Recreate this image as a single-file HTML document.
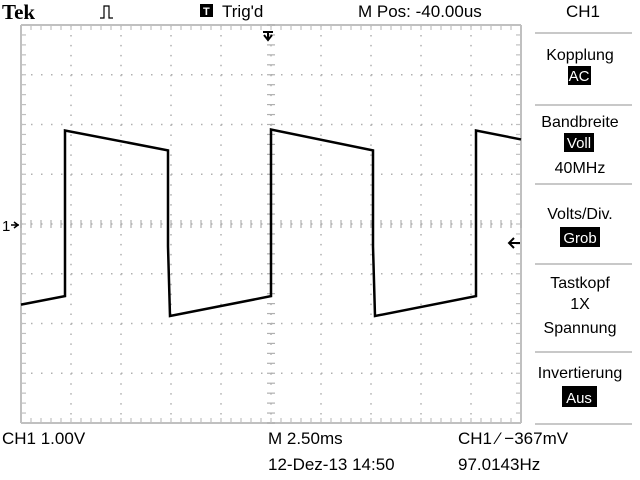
<!DOCTYPE html>
<html><head><meta charset="utf-8"><style>
body{margin:0;background:#fff;width:640px;height:480px;overflow:hidden;font-family:"Liberation Sans",sans-serif}
svg{display:block}
text{font-family:"Liberation Sans",sans-serif;fill:#000}
</style></head><body>
<svg width="640" height="480">
<text x="2" y="19" font-family="Liberation Serif" font-weight="bold" font-size="21" style="font-family:'Liberation Serif',serif">Tek</text>
<path d="M100 18 h4 v-12 h5 v12 h4" fill="none" stroke="#000" stroke-width="1.2"/>
<rect x="200" y="4" width="13" height="13" fill="#000"/>
<text x="203" y="15" font-size="11" font-weight="bold" style="fill:#fff">T</text>
<text x="222" y="17" font-size="17">Trig'd</text>
<text x="358" y="17" font-size="17">M Pos: -40.00us</text>
<text x="566" y="17" font-size="17">CH1</text>
<g id="grid"></g>
<path d="M263 32 h10 M268 32 v7 M264 35 l4 5 l4 -5" stroke="#000" stroke-width="2" fill="none"/>
<text x="2" y="231" font-size="15">1</text>
<path d="M11 225 h8 M14 222 l4 3 l-4 3" stroke="#000" stroke-width="1.5" fill="none"/>
<path d="M509 243 h11 M514 238 l-5 5 l5 5" stroke="#000" stroke-width="2" fill="none"/>
<polyline id="trace" fill="none" stroke="#000" stroke-width="2.5"/>
<g>
<g stroke="#c8c8c8" stroke-width="2"><line x1="535" y1="33" x2="632" y2="33"/><line x1="535" y1="105" x2="632" y2="105"/><line x1="535" y1="184" x2="632" y2="184"/><line x1="535" y1="264" x2="632" y2="264"/><line x1="535" y1="352" x2="632" y2="352"/><line x1="535" y1="424" x2="632" y2="424"/></g>
<text x="580" y="60" font-size="16" text-anchor="middle">Kopplung</text>
<rect x="568" y="66" width="23" height="19" fill="#000"/><text x="579" y="81" font-size="15" text-anchor="middle" style="fill:#fff">AC</text>
<text x="580" y="127" font-size="16" text-anchor="middle">Bandbreite</text>
<rect x="564" y="133" width="30" height="19" fill="#000"/><text x="579" y="148" font-size="15" text-anchor="middle" style="fill:#fff">Voll</text>
<text x="580" y="173" font-size="16" text-anchor="middle">40MHz</text>
<text x="580" y="219" font-size="16" text-anchor="middle">Volts/Div.</text>
<rect x="560" y="227" width="40" height="20" fill="#000"/><text x="580" y="243" font-size="15" text-anchor="middle" style="fill:#fff">Grob</text>
<text x="580" y="288" font-size="16" text-anchor="middle">Tastkopf</text>
<text x="580" y="309" font-size="16" text-anchor="middle">1X</text>
<text x="580" y="333" font-size="16" text-anchor="middle">Spannung</text>
<text x="580" y="378" font-size="16" text-anchor="middle">Invertierung</text>
<rect x="562" y="386" width="35" height="21" fill="#000"/><text x="579" y="403" font-size="15" text-anchor="middle" style="fill:#fff">Aus</text>
</g>
<text x="2" y="444" font-size="17">CH1  1.00V</text>
<text x="268" y="444" font-size="17">M 2.50ms</text>
<text x="458" y="444" font-size="17">CH1 ⁄ −367mV</text>
<text x="268" y="470" font-size="17">12-Dez-13 14:50</text>
<text x="458" y="470" font-size="17">97.0143Hz</text>
</svg>
<script>
// time in divisions (0..10), voltage in divisions (V at 1.00V/div) relative to center
const timeDiv = [0, 0.88, 0.88, 2.94, 2.94, 2.98, 5.0, 5.0, 7.04, 7.04, 7.08, 9.1, 9.1, 10];
const voltDiv = [-1.62, -1.45, 1.88, 1.48, -0.45, -1.85, -1.45, 1.9, 1.48, -0.45, -1.85, -1.45, 1.88, 1.7];
const gx0=21, gx1=521, gy0=25, gy1=423;
const xs = t => gx0 + t*(gx1-gx0)/10;
const ys = v => (gy0+gy1)/2 - v*(gy1-gy0)/8;
const NS='http://www.w3.org/2000/svg';
const g=document.getElementById('grid');
function ln(x1,y1,x2,y2,c,w,d){const l=document.createElementNS(NS,'line');l.setAttribute('x1',x1);l.setAttribute('y1',y1);l.setAttribute('x2',x2);l.setAttribute('y2',y2);l.setAttribute('stroke',c);l.setAttribute('stroke-width',w);if(d)l.setAttribute('stroke-dasharray',d);g.appendChild(l);}
ln(gx0,gy0,gx1,gy0,'#c0c0c0',2);ln(gx0,gy1,gx1,gy1,'#c0c0c0',2);
ln(gx0,gy0,gx0,gy1,'#c0c0c0',2);ln(gx1,gy0,gx1,gy1,'#c0c0c0',2);
for(let i=1;i<10;i++){const x=xs(i);ln(x,gy0,x,gy1,'#b0b0b0',1.5,'1.5 8.45');}
for(let j=1;j<8;j++){const y=gy0+j*(gy1-gy0)/8;ln(gx0,y,gx1,y,'#b0b0b0',1.5,'1.5 8.5');}
const cx=xs(5), cy=(gy0+gy1)/2;
for(let k=0;k<=40;k++){const y=gy0+k*(gy1-gy0)/40;ln(cx-4,y,cx+4,y,'#b0b0b0',1.2);ln(gx0,y,gx0+5,y,'#c0c0c0',1.2);ln(gx1-5,y,gx1,y,'#c0c0c0',1.2);}
for(let k=0;k<=50;k++){const x=gx0+k*(gx1-gx0)/50;ln(x,cy-4,x,cy+4,'#b0b0b0',1.2);ln(x,gy1-5,x,gy1,'#c0c0c0',1.2);ln(x,gy0,x,gy0+5,'#c0c0c0',1.2);}
document.getElementById('trace').setAttribute('points',timeDiv.map((t,i)=>xs(t)+','+ys(voltDiv[i])).join(' '));
</script>
</body></html>
